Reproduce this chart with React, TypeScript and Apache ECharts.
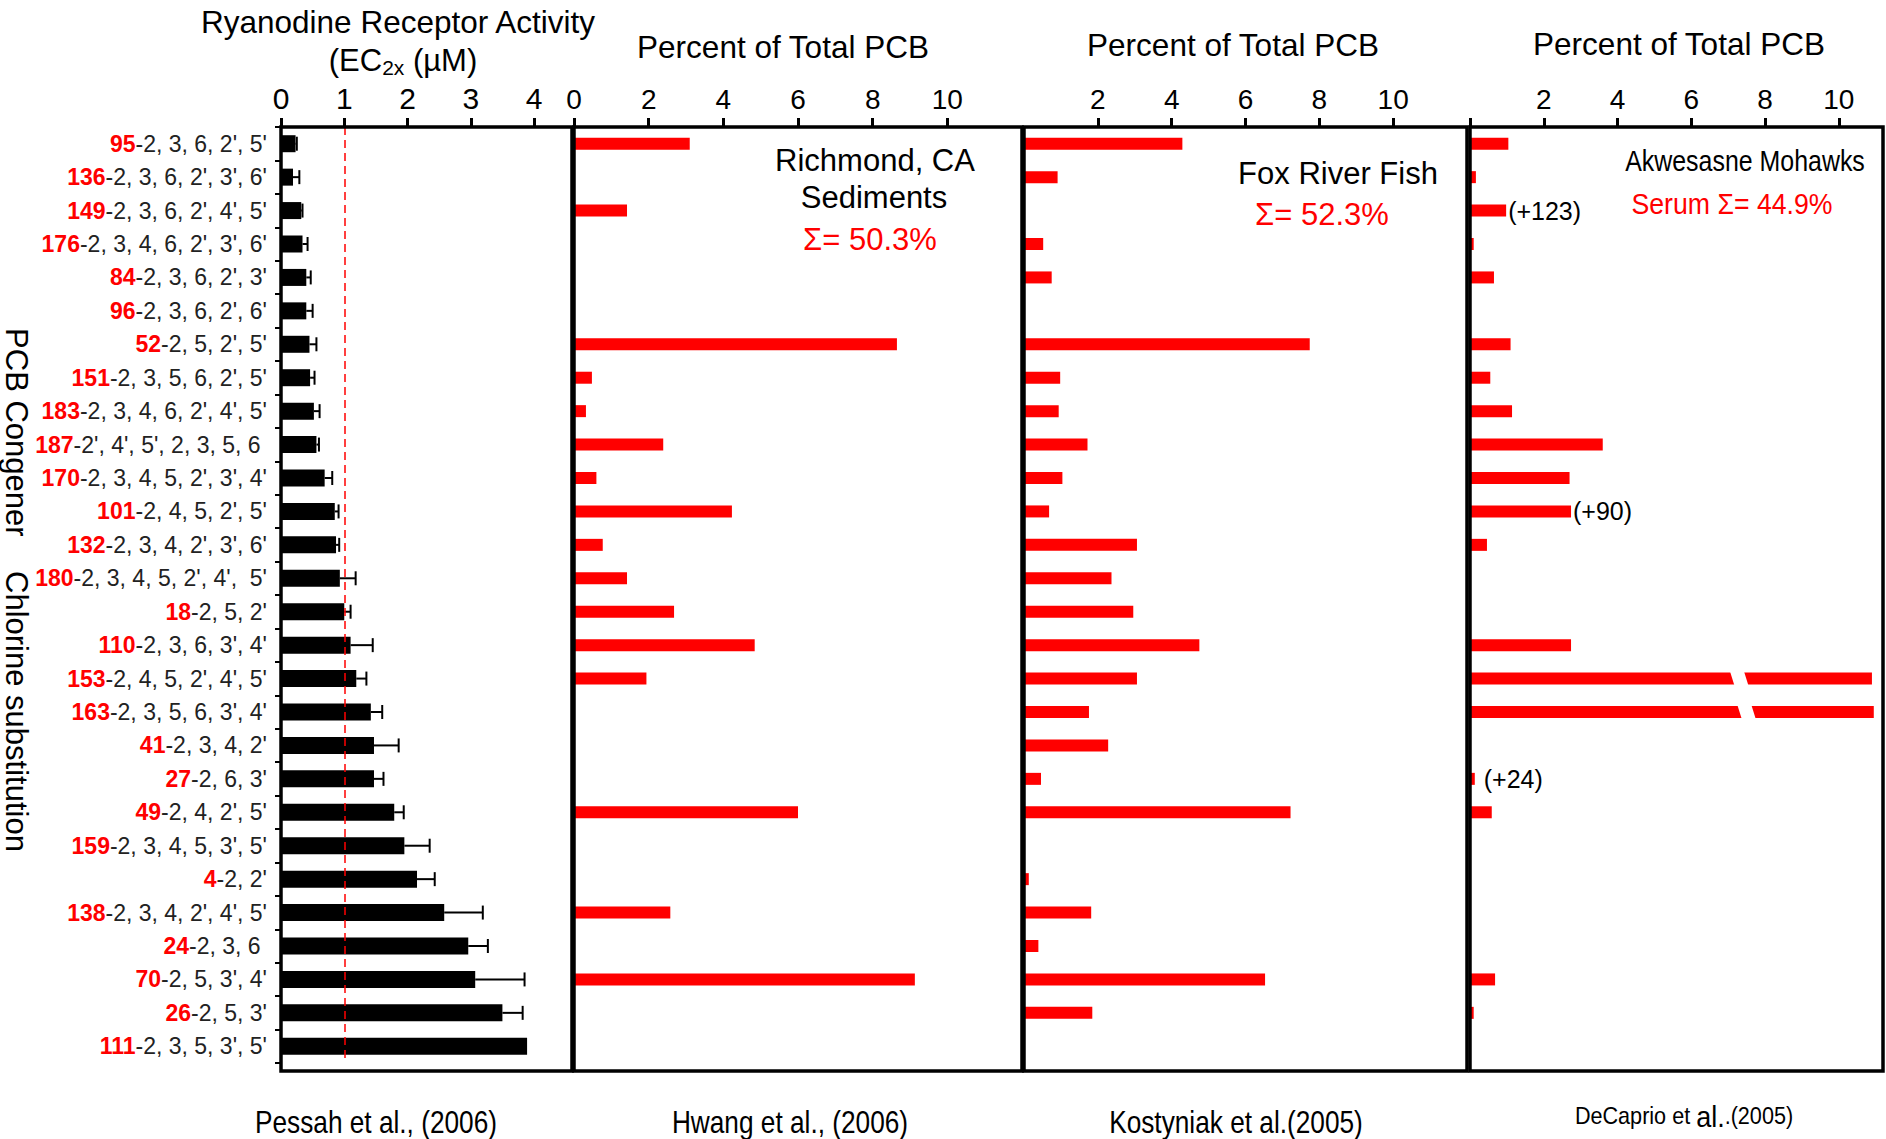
import React, { useEffect, useRef } from "react";
import * as echarts from "echarts";

// ---------- data ----------
const congenerIds = ["95", "136", "149", "176", "84", "96", "52", "151", "183", "187", "170", "101", "132", "180", "18", "110", "153", "163", "41", "27", "49", "159", "4", "138", "24", "70", "26", "111"];
const substitutions = [
  "-2, 3, 6, 2', 5'", "-2, 3, 6, 2', 3', 6'", "-2, 3, 6, 2', 4', 5'", "-2, 3, 4, 6, 2', 3', 6'",
  "-2, 3, 6, 2', 3'", "-2, 3, 6, 2', 6'", "-2, 5, 2', 5'", "-2, 3, 5, 6, 2', 5'",
  "-2, 3, 4, 6, 2', 4', 5'", "-2', 4', 5', 2, 3, 5, 6 ", "-2, 3, 4, 5, 2', 3', 4'", "-2, 4, 5, 2', 5'",
  "-2, 3, 4, 2', 3', 6'", "-2, 3, 4, 5, 2', 4',  5'", "-2, 5, 2'", "-2, 3, 6, 3', 4'",
  "-2, 4, 5, 2', 4', 5'", "-2, 3, 5, 6, 3', 4'", "-2, 3, 4, 2'", "-2, 6, 3'",
  "-2, 4, 2', 5'", "-2, 3, 4, 5, 3', 5'", "-2, 2'", "-2, 3, 4, 2', 4', 5'",
  "-2, 3, 6 ", "-2, 5, 3', 4'", "-2, 5, 3'", "-2, 3, 5, 3', 5'"
];
// Ryanodine receptor activity EC2x (uM) and upper end of error bar
const ryrActivity = [0.23, 0.19, 0.32, 0.34, 0.40, 0.40, 0.45, 0.46, 0.52, 0.56, 0.69, 0.85, 0.87, 0.93, 1.0, 1.10, 1.19, 1.42, 1.47, 1.47, 1.79, 1.95, 2.15, 2.58, 2.96, 3.07, 3.50, 3.89];
const ryrErrorUpper = [0.25, 0.29, 0.34, 0.42, 0.47, 0.50, 0.56, 0.53, 0.61, 0.60, 0.81, 0.91, 0.92, 1.18, 1.10, 1.45, 1.35, 1.60, 1.86, 1.62, 1.94, 2.35, 2.43, 3.19, 3.27, 3.85, 3.82, null];
// Percent of total PCB
const richmondSediments = [3.1, null, 1.42, null, null, null, 8.65, 0.48, 0.32, 2.39, 0.6, 4.23, 0.77, 1.42, 2.68, 4.84, 1.94, null, null, null, 6.0, null, null, 2.58, null, 9.13, null, null];
const foxRiverFish = [4.29, 0.91, null, 0.52, 0.75, null, 7.74, 0.98, 0.94, 1.72, 1.04, 0.68, 3.06, 2.37, 2.96, 4.75, 3.06, 1.76, 2.28, 0.46, 7.22, null, 0.13, 1.82, 0.39, 6.53, 1.85, null];
const akwesasneSerum = [1.04, 0.16, 0.98, 0.1, 0.65, null, 1.1, 0.55, 1.14, 3.6, 2.7, 2.74, 0.46, null, null, 2.74, 10.9, 10.95, null, 0.13, 0.59, null, null, null, null, 0.68, 0.1, null];
const akwesasneNotes = [null, null, "(+123)", null, null, null, null, null, null, null, null, "(+90)", null, null, null, null, null, null, null, "(+24)", null, null, null, null, null, null, null, null];
const akwesasneBreakAt = [null, null, null, null, null, null, null, null, null, null, null, null, null, null, null, null, 7.3, 7.5, null, null, null, null, null, null, null, null, null, null];
// axes
const xMaxes = [4.6, 12, 12, 11.2];
const xTickValues = [[0, 1, 2, 3, 4], [0, 2, 4, 6, 8, 10], [2, 4, 6, 8, 10], [0, 2, 4, 6, 8, 10]];
const xLabelValues = [[0, 1, 2, 3, 4], [0, 2, 4, 6, 8, 10], [2, 4, 6, 8, 10], [2, 4, 6, 8, 10]];
const thresholdEC = 1;

// ---------- layout ----------
const FONT = "'Liberation Sans', Arial, Helvetica, sans-serif";
const TOP = 127;
const GRID_H = 936;
const FRAME_BOTTOM = 1071;
const panels = [
  { left: 281, right: 572 },
  { left: 574, right: 1022 },
  { left: 1024, right: 1467 },
  { left: 1470, right: 1883 },
];
const RED = "#ff0000";

function txt(text: string, x: number, y: number, size: number, opts: any = {}) {
  return {
    type: "text",
    x,
    y,
    rotation: opts.rotation || 0,
    scaleX: opts.scaleX || 1,
    z: 20,
    style: {
      text,
      fill: opts.color || "#000",
      fontSize: size,
      fontFamily: FONT,
      fontWeight: opts.weight || "normal",
      textAlign: "center",
      textVerticalAlign: "middle",
      align: "center",
      verticalAlign: "middle",
      rich: opts.rich,
    },
  };
}

export default function App() {
  const ref = useRef<HTMLDivElement>(null);

  useEffect(() => {
    document.body.style.margin = "0";
    document.body.style.overflow = "hidden";
    const chart = echarts.init(ref.current!, null, { renderer: "svg" });

    const grids = panels.map((p) => ({ left: p.left, top: TOP, width: p.right - p.left, height: GRID_H }));

    const xAxes = panels.map((p, i) => ({
      type: "value",
      gridIndex: i,
      position: "top",
      min: 0,
      max: xMaxes[i],
      splitLine: { show: false },
      axisLine: { show: false },
      axisTick: {
        show: true,
        inside: false,
        length: 9,
        customValues: xTickValues[i],
        lineStyle: { color: "#000", width: 3 },
      },
      axisLabel: {
        show: true,
        customValues: xLabelValues[i],
        margin: 14,
        color: "#000",
        fontSize: i === 0 ? 30 : 28,
        fontFamily: FONT,
      },
    }));

    const yAxes = panels.map((p, i) => ({
      type: "category",
      gridIndex: i,
      data: congenerIds,
      inverse: true,
      axisLine: { show: false },
      axisTick: {
        show: i === 0,
        alignWithLabel: false,
        inside: false,
        length: 6,
        lineStyle: { color: "#000", width: 2 },
      },
      axisLabel: {
        show: i === 0,
        margin: 14,
        interval: 0,
        formatter: (v: string, idx: number) => `{num|${v}}{rest|${substitutions[idx]}}`,
        rich: {
          num: { color: RED, fontWeight: "bold", fontSize: 23, fontFamily: FONT },
          rest: { color: "#222", fontSize: 23, fontFamily: FONT },
        },
      },
      splitLine: { show: false },
    }));

    const toBar = (arr: (number | null)[]) => arr.map((v) => (v == null ? "-" : v));

    const series: any[] = [
      {
        type: "bar",
        xAxisIndex: 0,
        yAxisIndex: 0,
        data: ryrActivity,
        barWidth: 17,
        itemStyle: { color: "#000" },
        markLine: {
          silent: true,
          symbol: "none",
          label: { show: false },
          lineStyle: { color: RED, type: [8, 5], width: 1.5 },
          data: [{ xAxis: thresholdEC }],
        },
      },
      {
        type: "custom",
        xAxisIndex: 0,
        yAxisIndex: 0,
        z: 3,
        data: ryrActivity
          .map((v, i) => (ryrErrorUpper[i] == null ? null : [v, ryrErrorUpper[i], i]))
          .filter((d) => d != null),
        encode: { x: [0, 1], y: 2 },
        renderItem: (params: any, api: any) => {
          const a = api.coord([api.value(0), api.value(2)]);
          const b = api.coord([api.value(1), api.value(2)]);
          return {
            type: "group",
            children: [
              { type: "line", shape: { x1: a[0], y1: a[1], x2: b[0], y2: b[1] }, style: { stroke: "#000", lineWidth: 2 } },
              { type: "line", shape: { x1: b[0], y1: b[1] - 7, x2: b[0], y2: b[1] + 7 }, style: { stroke: "#000", lineWidth: 2 } },
            ],
          };
        },
      },
      {
        type: "bar",
        xAxisIndex: 1,
        yAxisIndex: 1,
        data: toBar(richmondSediments),
        barWidth: 12,
        itemStyle: { color: RED },
      },
      {
        type: "bar",
        xAxisIndex: 2,
        yAxisIndex: 2,
        data: toBar(foxRiverFish),
        barWidth: 12,
        itemStyle: { color: RED },
      },
      {
        type: "bar",
        xAxisIndex: 3,
        yAxisIndex: 3,
        barWidth: 12,
        itemStyle: { color: RED },
        data: akwesasneSerum.map((v, i) =>
          v == null
            ? "-"
            : akwesasneNotes[i]
            ? {
                value: v,
                label: {
                  show: true,
                  position: "right",
                  distance: i === 19 ? 9 : 2,
                  formatter: akwesasneNotes[i],
                  color: "#000",
                  fontSize: 25,
                  fontFamily: FONT,
                },
              }
            : v
        ),
      },
      {
        type: "custom",
        xAxisIndex: 3,
        yAxisIndex: 3,
        z: 5,
        data: akwesasneBreakAt.map((v, i) => (v == null ? null : [v, i])).filter((d) => d != null),
        encode: { x: 0, y: 1 },
        renderItem: (params: any, api: any) => {
          const p = api.coord([api.value(0), api.value(1)]);
          const h = 16, w = 14, s = 5;
          return {
            type: "polygon",
            shape: {
              points: [
                [p[0] - w / 2 - s / 2, p[1] - h / 2],
                [p[0] + w / 2 - s / 2, p[1] - h / 2],
                [p[0] + w / 2 + s / 2, p[1] + h / 2],
                [p[0] - w / 2 + s / 2, p[1] + h / 2],
              ],
            },
            style: { fill: "#fff" },
          };
        },
      },
    ];

    const frames = panels.map((p) => ({
      type: "rect",
      z: 10,
      shape: { x: p.left, y: TOP, width: p.right - p.left, height: FRAME_BOTTOM - TOP },
      style: { fill: "none", stroke: "#000", lineWidth: 3.5 },
    }));

    const texts = [
      txt("Ryanodine Receptor Activity", 398, 22, 31.5),
      txt("(EC{sub|2x} (\u00b5M)", 403, 60, 31, {
        rich: { sub: { fontSize: 21, fontFamily: FONT, padding: [14, 0, 0, 0] } },
      }),
      txt("Percent of Total PCB", 783, 47, 31.5),
      txt("Percent of Total PCB", 1233, 45, 31.5),
      txt("Percent of Total PCB", 1679, 44, 31.5),
      txt("Richmond, CA", 875, 160, 31),
      txt("Sediments", 874, 197, 31),
      txt("\u03a3= 50.3%", 870, 239, 31, { color: RED }),
      txt("Fox River Fish", 1338, 173, 31),
      txt("\u03a3= 52.3%", 1322, 214, 31, { color: RED }),
      txt("Akwesasne Mohawks", 1745, 161, 29, { scaleX: 0.86 }),
      txt("Serum \u03a3= 44.9%", 1732, 204, 29, { scaleX: 0.92, color: RED }),
      txt("PCB Congener    Chlorine substitution", 16, 590, 31, { rotation: -Math.PI / 2 }),
      txt("Pessah et al., (2006)", 376, 1122, 32, { scaleX: 0.82 }),
      txt("Hwang et al., (2006)", 790, 1122, 32, { scaleX: 0.82 }),
      txt("Kostyniak et al.(2005)", 1236, 1122, 32, { scaleX: 0.82 }),
      txt("{s|DeCaprio et }{b|al.}{s|.(2005)}", 1684, 1116, 24, {
        scaleX: 0.9,
        rich: {
          s: { fontSize: 24, fontFamily: FONT },
          b: { fontSize: 30, fontFamily: FONT },
        },
      }),
    ];

    chart.setOption({
      animation: false,
      backgroundColor: "#fff",
      grid: grids,
      xAxis: xAxes,
      yAxis: yAxes,
      series,
      graphic: { elements: [...frames, ...texts] },
    });

    return () => chart.dispose();
  }, []);

  return <div ref={ref} style={{ width: 1886, height: 1139 }} />;
}
